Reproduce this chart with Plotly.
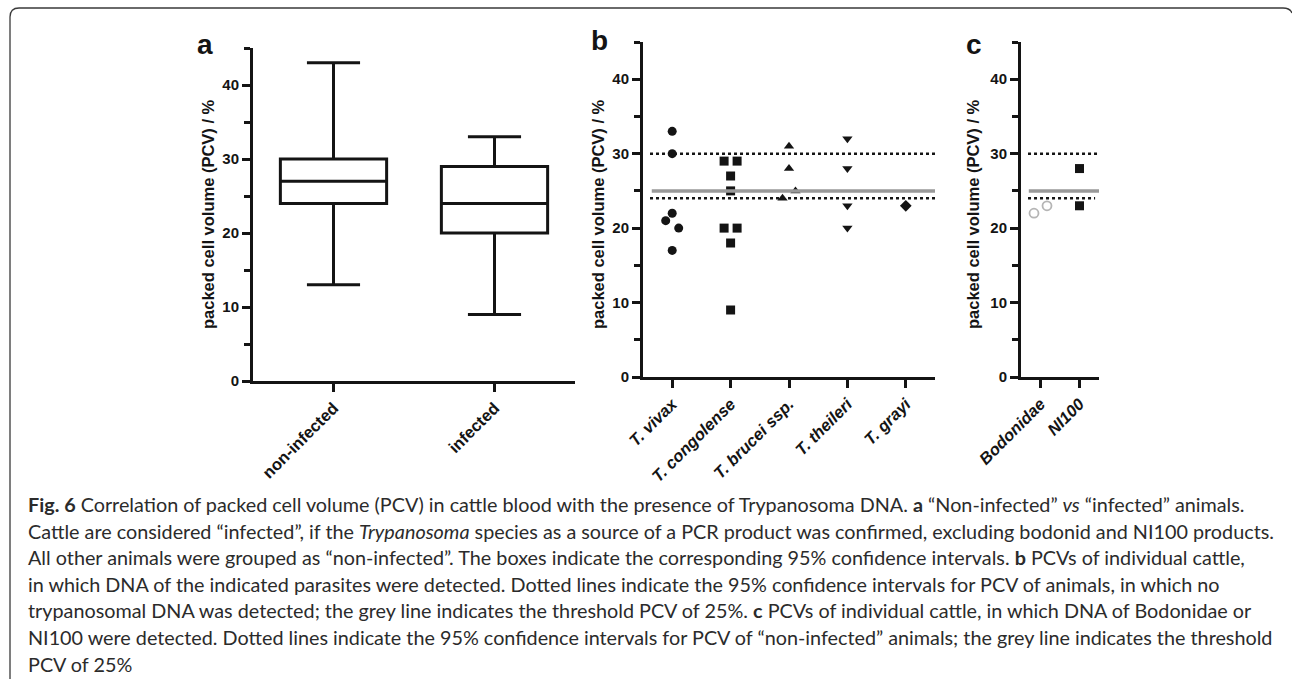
import plotly.graph_objects as go

W, H = 1292, 681

# ---------------- data ----------------
groups_a = ["non-infected", "infected"]
a_lower = [13, 9]
a_q1 = [24, 20]
a_median = [27, 24]
a_q3 = [30, 29]
a_upper = [43, 33]

species_b = ["T. vivax", "T. congolense", "T. brucei ssp.", "T. theileri", "T. grayi"]
pcv_vivax = [33, 30, 22, 21, 20, 17]
pcv_congolense = [29, 29, 27, 25, 20, 20, 18, 9]
pcv_brucei = [31, 28, 24, 25]
pcv_theileri = [32, 28, 23, 20]
pcv_grayi = [23]

groups_c = ["Bodonidae", "NI100"]
pcv_bodonidae = [22, 23]
pcv_ni100 = [28, 23]

ci_lower = 24
ci_upper = 30
threshold = 25

y_ticks = [0, 10, 20, 30, 40]
y_max = 45

caption_lines = [
    "<b>Fig. 6</b> Correlation of packed cell volume (PCV) in cattle blood with the presence of Trypanosoma DNA. <b>a</b> “Non-infected” <i>vs</i> “infected” animals.",
    "Cattle are considered “infected”, if the <i>Trypanosoma</i> species as a source of a PCR product was confirmed, excluding bodonid and NI100 products.",
    "All other animals were grouped as “non-infected”. The boxes indicate the corresponding 95% confidence intervals. <b>b</b> PCVs of individual cattle,",
    "in which DNA of the indicated parasites were detected. Dotted lines indicate the 95% confidence intervals for PCV of animals, in which no",
    "trypanosomal DNA was detected; the grey line indicates the threshold PCV of 25%. <b>c</b> PCVs of individual cattle, in which DNA of Bodonidae or",
    "NI100 were detected. Dotted lines indicate the 95% confidence intervals for PCV of “non-infected” animals; the grey line indicates the threshold",
    "PCV of 25%",
]
y_title = "packed cell volume (PCV) / %"

# ---------------- layout helpers ----------------
def xd(x0, x1):
    return [x0 / W, x1 / W]

def yd(top, bottom):
    return [1 - bottom / H, 1 - top / H]

PA = dict(x=(253, 575), y=(48, 381))
PB = dict(x=(643, 935), y=(42, 377))
PC = dict(x=(1021, 1099), y=(42, 377))

BLACK = "#141414"
FONT = "Liberation Sans"


def spread(values, px_per_unit, step_px=6.5):
    """GraphPad-like spreading of points falling into the same value bin."""
    bins = [int(v // 2) for v in values]
    offs = []
    for i, b in enumerate(bins):
        members = [j for j, bb in enumerate(bins) if bb == b]
        n = len(members)
        k = members.index(i)
        offs.append((k - (n - 1) / 2) * 2 * step_px / px_per_unit)
    return offs


fig = go.Figure()

# ---- panel a: box plot ----
fig.add_trace(go.Box(
    x=groups_a, q1=a_q1, median=a_median, q3=a_q3,
    lowerfence=a_lower, upperfence=a_upper,
    xaxis="x", yaxis="y",
    width=0.66, whiskerwidth=0.5,
    line=dict(color=BLACK, width=3), fillcolor="white",
    boxpoints=False, showlegend=False, hoverinfo="skip",
))

# ---- panel b: dot plot ----
b_px_per_unit = (PB["x"][1] - PB["x"][0]) / 5
b_series = [
    (pcv_vivax, "circle", 9),
    (pcv_congolense, "square", 9),
    (pcv_brucei, "triangle-up", 9),
    (pcv_theileri, "triangle-down", 9),
    (pcv_grayi, "diamond", 9),
]
for i, (vals, sym, sz) in enumerate(b_series):
    offs = spread(vals, b_px_per_unit)
    fig.add_trace(go.Scatter(
        x=[i + o for o in offs], y=vals, mode="markers",
        xaxis="x2", yaxis="y2",
        marker=dict(symbol=sym, size=sz, color=BLACK, line=dict(width=0)),
        showlegend=False, hoverinfo="skip",
    ))

# ---- panel c ----
c_px_per_unit = (PC["x"][1] - PC["x"][0]) / 2
offs = spread(pcv_bodonidae, c_px_per_unit)
fig.add_trace(go.Scatter(
    x=[0 + o for o in offs], y=pcv_bodonidae, mode="markers",
    xaxis="x3", yaxis="y3",
    marker=dict(symbol="circle-open", size=9, color="#b5b5b5", line=dict(width=1.8, color="#b5b5b5")),
    showlegend=False, hoverinfo="skip",
))
offs = spread(pcv_ni100, c_px_per_unit)
fig.add_trace(go.Scatter(
    x=[1 + o for o in offs], y=pcv_ni100, mode="markers",
    xaxis="x3", yaxis="y3",
    marker=dict(symbol="square", size=9, color=BLACK, line=dict(width=0)),
    showlegend=False, hoverinfo="skip",
))

ytickfont = dict(family=FONT, size=15, color=BLACK, weight="bold")
xtickfont = dict(family=FONT, size=16.5, color=BLACK, weight="bold")
xtickfont_it = dict(family=FONT, size=16.5, color=BLACK, weight="bold", style="italic")


def yaxis_cfg(p):
    return dict(
        domain=yd(*p["y"]), range=[0, y_max], tickvals=y_ticks,
        showline=True, linewidth=3, linecolor=BLACK,
        ticks="outside", ticklen=8, tickwidth=3, tickcolor=BLACK,
        minor=dict(dtick=5, tick0=0, ticks="outside", ticklen=6, tickwidth=3, tickcolor=BLACK, showgrid=False),
        showgrid=False, zeroline=False, tickfont=ytickfont, fixedrange=True, automargin=False,
    )


def xaxis_cfg(p, anchor, names, font, rng, numeric=True):
    d = dict(
        domain=xd(*p["x"]), anchor=anchor, range=rng,
        showline=True, linewidth=3, linecolor=BLACK,
        ticks="outside", ticklen=8, tickwidth=3, tickcolor=BLACK,
        showgrid=False, zeroline=False, tickfont=font, tickangle=-45, fixedrange=True,
        automargin=False,
    )
    if numeric:
        d.update(tickmode="array", tickvals=list(range(len(names))), ticktext=names)
    return d


fig.update_layout(
    template="none",
    width=W, height=H,
    margin=dict(l=0, r=0, t=0, b=0, pad=0, autoexpand=False),
    paper_bgcolor="white", plot_bgcolor="rgba(0,0,0,0)",
    xaxis=dict(xaxis_cfg(PA, "y", groups_a, xtickfont, [-0.5, 1.5], numeric=False), type="category"),
    yaxis=dict(yaxis_cfg(PA), anchor="x"),
    xaxis2=xaxis_cfg(PB, "y2", species_b, xtickfont_it, [-0.5, 4.5]),
    yaxis2=dict(yaxis_cfg(PB), anchor="x2"),
    xaxis3=xaxis_cfg(PC, "y3", groups_c, xtickfont_it, [-0.5, 1.5]),
    yaxis3=dict(yaxis_cfg(PC), anchor="x3"),
    showlegend=False,
)

# ---- reference lines ----
shapes = []
def hline(xref, yref, y, x0, x1, color, width, dash):
    shapes.append(dict(type="line", xref=xref + " domain", yref=yref, x0=x0, x1=x1, y0=y, y1=y,
                       line=dict(color=color, width=width, dash=dash), layer="above"))

hline("x2", "y2", ci_upper, 0.024, 1.0, BLACK, 2.5, "dot")
hline("x2", "y2", ci_lower, 0.024, 1.0, BLACK, 2.5, "dot")
hline("x2", "y2", threshold, 0.03, 1.0, "#999999", 3.5, "solid")
hline("x3", "y3", ci_upper, 0.09, 1.0, BLACK, 2.5, "dot")
hline("x3", "y3", ci_lower, 0.09, 0.95, BLACK, 2.5, "dot")
hline("x3", "y3", threshold, 0.1, 1.0, "#999999", 3.5, "solid")

# ---- frame ----
def P(x, y):
    return f"{x / W:.5f},{1 - y / H:.5f}"

frame_path = ("M " + P(10, 679) + " L " + P(10, 17) + " Q " + P(10, 8) + " " + P(19, 8) +
              " L " + P(1283, 8) + " Q " + P(1290, 8) + " " + P(1292, 13))
shapes.append(dict(type="path", xref="paper", yref="paper", path=frame_path,
                   line=dict(color="#3a3a3a", width=1.3), layer="above"))
fig.update_layout(shapes=shapes)

# ---- annotations ----
ann = []
for letter, px, py in [("a", 205, 44), ("b", 599, 40), ("c", 974, 44)]:
    ann.append(dict(text=letter, xref="paper", yref="paper", x=px / W, y=1 - py / H,
                    xanchor="center", yanchor="middle", showarrow=False,
                    font=dict(family=FONT, size=28, color=BLACK, weight="bold")))
for px in [208, 598, 973]:
    ann.append(dict(text=y_title, xref="paper", yref="paper", x=px / W, y=1 - 214 / H,
                    xanchor="center", yanchor="middle", showarrow=False, textangle=-90,
                    font=dict(family=FONT, size=16.5, color=BLACK, weight="bold")))

cap_y0, cap_dy = 504, 26.6
for i, line in enumerate(caption_lines):
    ann.append(dict(text=line, xref="paper", yref="paper", x=26 / W, y=1 - (cap_y0 + i * cap_dy) / H,
                    xanchor="left", yanchor="middle", showarrow=False, align="left",
                    font=dict(family="Lato", size=19.8, color="#2b2b2b")))
fig.update_layout(annotations=ann)

fig.write_html("out.html", config={"displayModeBar": False},
               post_script="document.body.style.margin='0px';document.body.style.padding='0px';")
